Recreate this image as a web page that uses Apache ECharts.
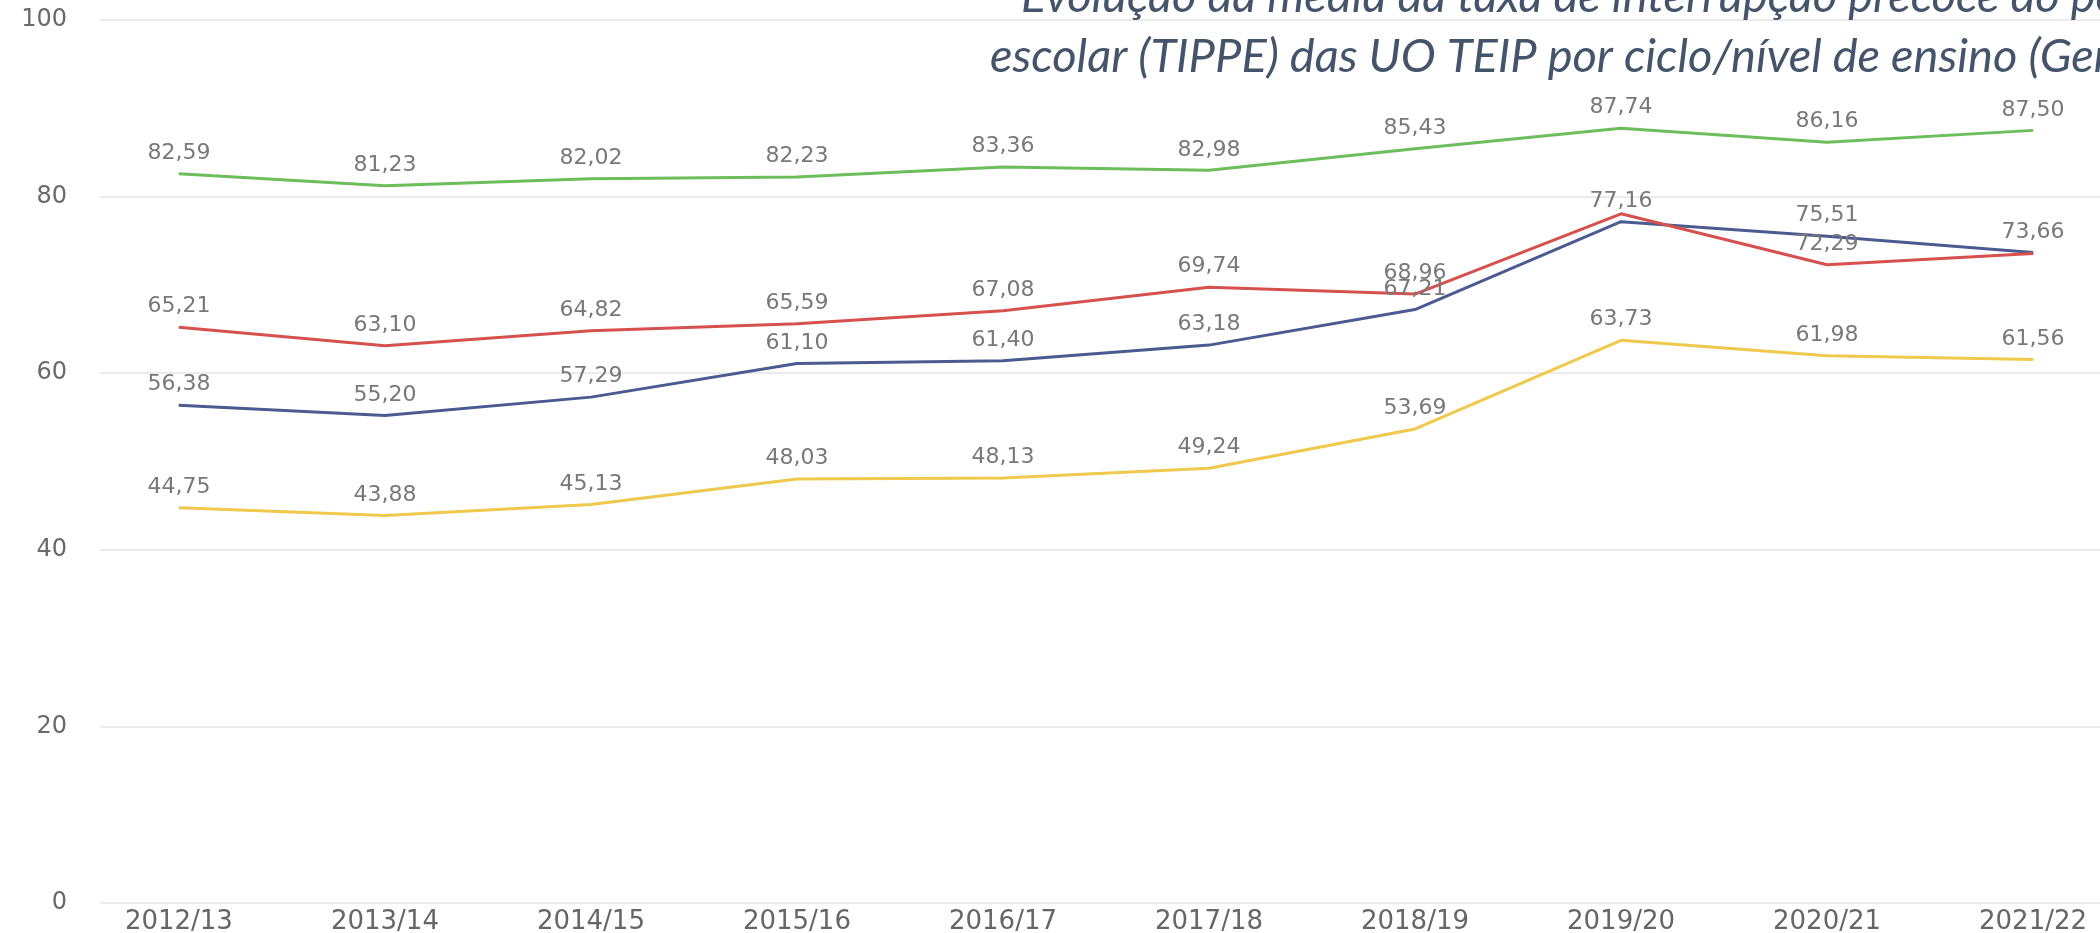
<!DOCTYPE html>
<html>
<head>
<meta charset="utf-8">
<script src="https://cdn.jsdelivr.net/npm/echarts@6/dist/echarts.min.js"></script>
<style>
  html, body { margin: 0; padding: 0; background: #ffffff; }
  #chart { width: 2100px; height: 933px; }
</style>
</head>
<body>
<div id="chart"></div>
<script>
// anos lectivos
const categories = ['2012/13', '2013/14', '2014/15', '2015/16', '2016/17', '2017/18', '2018/19', '2019/20', '2020/21', '2021/22']

// médias TIPPE por ciclo
const greenValues = [82.59, 81.23, 82.02, 82.23, 83.36, 82.98, 85.43, 87.74, 86.16, 87.50]
const redValues = [65.21, 63.10, 64.82, 65.59, 67.08, 69.74, 68.96, 78.05, 72.29, 73.55]
const blueValues = [56.38, 55.20, 57.29, 61.10, 61.40, 63.18, 67.21, 77.16, 75.51, 73.66]
const yellowValues = [44.75, 43.88, 45.13, 48.03, 48.13, 49.24, 53.69, 63.73, 61.98, 61.56]

// rótulos escondidos no original (sobrepostos)
const redHiddenLabels = [7, 9]

const titleLines = [
  'Evolução da média da taxa de interrupção precoce do percurso',
  'escolar (TIPPE) das UO TEIP por ciclo/nível de ensino (Geral)',
]

const titleStyle = {
  fontFamily: 'Lato',
  fontStyle: 'italic',
  fontWeight: 'normal',
  fontSize: 47,
  lineHeight: 47,
  color: '#44546a',
}

const fmt = (v) => v.toFixed(2).replace('.', ',')

const makeSeries = (name, values, color, hidden = []) => ({
  name,
  type: 'line',
  symbol: 'circle',
  symbolSize: 1,
  showSymbol: true,
  data: values.map((v, i) => (hidden.includes(i)
    ? { value: [i, v], label: { show: false } }
    : { value: [i, v] })),
  lineStyle: { width: 3, color },
  itemStyle: { color },
  label: {
    show: true,
    position: 'top',
    distance: 9,
    fontFamily: 'DejaVu Sans',
    fontSize: 22,
    color: '#787878',
    formatter: (p) => fmt(p.value[1]),
  },
})

const chart = echarts.init(document.getElementById('chart'))

chart.setOption({
  animation: false,
  backgroundColor: '#ffffff',
  title: [
    { text: titleLines[0], left: 1016, top: -32, textStyle: titleStyle },
    { text: titleLines[1], left: 985, top: 28, textStyle: titleStyle },
  ],
  grid: {
    left: 100,
    right: 0,
    top: 20,
    bottom: 30,
    outerBoundsMode: 'none',
  },
  xAxis: {
    type: 'value',
    min: -0.383,
    max: 9.325,
    axisLine: { show: false },
    axisTick: { show: false },
    splitLine: { show: false },
    axisLabel: {
      customValues: categories.map((c, i) => i),
      formatter: (v) => categories[v],
      margin: 6,
      fontFamily: 'DejaVu Sans',
      fontSize: 26,
      color: '#666666',
    },
  },
  yAxis: {
    type: 'value',
    min: 0,
    max: 100,
    interval: 20,
    axisLine: { show: false },
    axisTick: { show: false },
    axisLabel: {
      margin: 33,
      fontFamily: 'DejaVu Sans',
      fontSize: 24,
      color: '#6a6a6a',
    },
    splitLine: {
      lineStyle: { color: '#ebebeb', width: 2 },
    },
  },
  series: [
    makeSeries('1.º ciclo', greenValues, '#6cbd5b'),
    makeSeries('3.º ciclo', blueValues, '#4b5a91'),
    makeSeries('Secundário', yellowValues, '#f0c84c'),
    makeSeries('2.º ciclo', redValues, '#d6514d', redHiddenLabels),
  ],
})
</script>
</body>
</html>
